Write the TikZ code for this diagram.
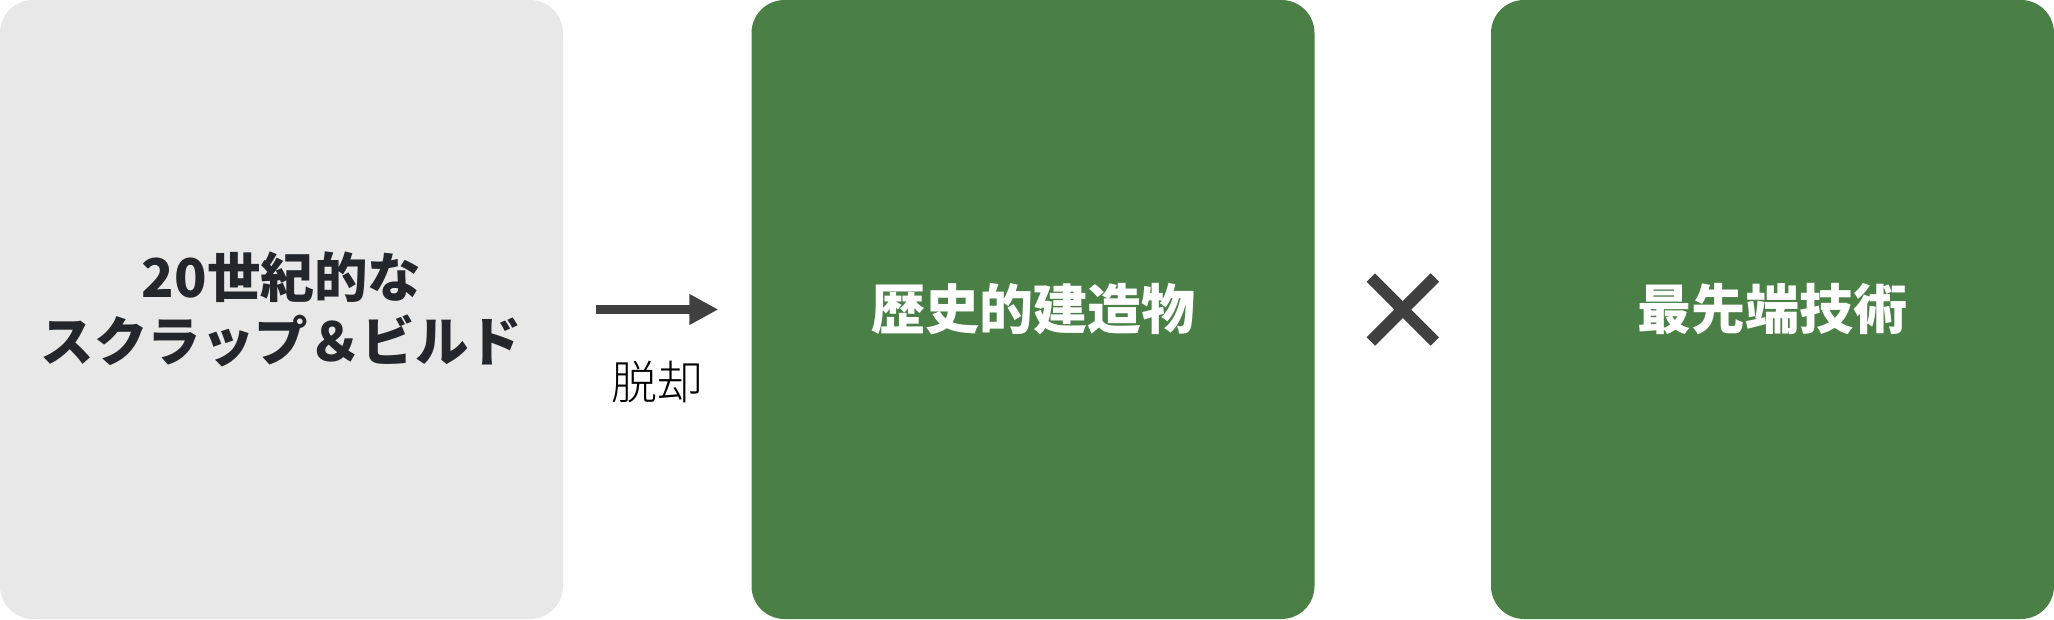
\documentclass[tikz,border=0pt]{standalone}
\usepackage{fontspec}
\newfontfamily\jpfont{Noto Sans CJK JP}
\newfontfamily\jplight{Noto Sans CJK JP Light}
\usetikzlibrary{arrows.meta, calc}
\definecolor{boxgray}{HTML}{E8E8E8}
\definecolor{boxgreen}{HTML}{4A8046}
\definecolor{inkdark}{HTML}{23272B}
\definecolor{arrowgray}{HTML}{404040}
\begin{document}
\begin{tikzpicture}[x=1pt, y=-1pt]
    \tikzstyle{panel}=[rounded corners=33pt, draw=none, minimum width=563pt, minimum height=619pt, inner sep=0pt, align=center]
    \tikzstyle{old panel}=[panel, fill=boxgray, text=inkdark, font=\jpfont\bfseries\fontsize{53.5}{64}\selectfont]
    \tikzstyle{new panel}=[panel, fill=boxgreen, text=white, font=\jpfont\bfseries\fontsize{54}{64}\selectfont]
    \tikzstyle{annot}=[font=\jplight\fontsize{46}{50}\selectfont, text=black]

    \useasboundingbox (0,0) rectangle (2054,619);

    % the old way
    \node [old panel] (scrap) at (281.5,309.5) {20世紀的な\\スクラップ＆ビルド};

    % the two new parts
    \foreach \m/\x/\t in {heritage/1033/歴史的建造物, tech/1772.5/最先端技術}
    \node [new panel] (\m) at (\x,309.5) {\t};

    % moving away from the old way
    \draw [-{Triangle[length=29pt, width=29pt]}, line width=9pt, draw=arrowgray, shorten <=33pt, shorten >=33pt] (scrap.east) -- (heritage.west)
    node [annot, below=44pt, midway] (away) {脱却};

    % times sign between the two
    \coordinate (times) at ($(heritage.east)!0.5!(tech.west)$);
    \draw [line width=12pt, draw=arrowgray] ([shift={(-32,-32)}]times) -- ([shift={(32,32)}]times)
    ([shift={(-32,32)}]times) -- ([shift={(32,-32)}]times);

\end{tikzpicture}
\end{document}
